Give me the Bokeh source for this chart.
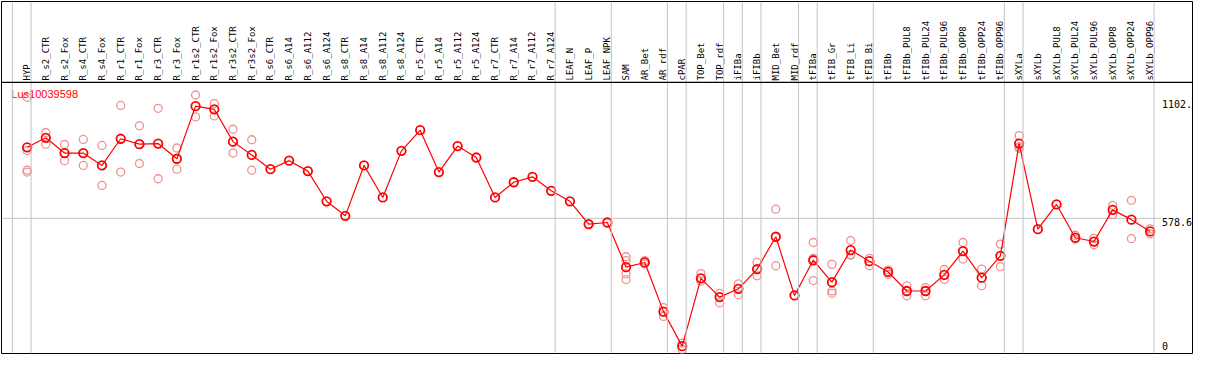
import math
from bokeh.plotting import figure
from bokeh.models import Range1d, Span, ColumnDataSource
from bokeh.core.properties import value
from bokeh.embed import file_html
from bokeh.resources import INLINE

# ---------------- data ----------------
title_text = "Lus10039598"

categories = [
    "HYP", "R_s2_CTR", "R_s2_Fox", "R_s4_CTR", "R_s4_Fox", "R_r1_CTR", "R_r1_Fox",
    "R_r3_CTR", "R_r3_Fox", "R_r1s2_CTR", "R_r1s2_Fox", "R_r3s2_CTR", "R_r3s2_Fox",
    "R_s6_CTR", "R_s6_A14", "R_s6_A112", "R_s6_A124", "R_s8_CTR", "R_s8_A14",
    "R_s8_A112", "R_s8_A124", "R_r5_CTR", "R_r5_A14", "R_r5_A112", "R_r5_A124",
    "R_r7_CTR", "R_r7_A14", "R_r7_A112", "R_r7_A124", "LEAF_N", "LEAF_P", "LEAF_NPK",
    "SAM", "AR_Bet", "AR_rdf", "cPAR", "TOP_Bet", "TOP_rdf", "iFIBa", "iFIBb",
    "MID_Bet", "MID_rdf", "tFIBa", "tFIB_Gr", "tFIB_Li", "tFIB_Bi", "tFIBb",
    "tFIBb_PUL8", "tFIBb_PUL24", "tFIBb_PUL96", "tFIBb_OPP8", "tFIBb_OPP24", "tFIBb_OPP96",
    "sXYLa", "sXYLb", "sXYLb_PUL8", "sXYLb_PUL24", "sXYLb_PUL96", "sXYLb_OPP8",
    "sXYLb_OPP24", "sXYLb_OPP96",
]

means = [
    891.5, 933.4, 866.3, 866.3, 811.8, 929.2, 905.3, 908.2, 841.2, 1072.9, 1059.1,
    916.6, 857.9, 795.1, 832.8, 786.7, 653.8, 589.7, 811.8, 670.6, 875.9, 966.9,
    782.5, 896.9, 846.6, 670.6, 737.6, 761.5, 699.9, 653.8, 553.2, 560.4,
    363.4, 384.3, 167.6, 15.5, 314.3, 231.8, 268.2, 355.0, 497.5, 238.9,
    394.0, 297.6, 438.8, 389.8, 342.4, 258.6, 258.6, 329.8, 434.6, 317.3, 413.7,
    908.2, 531.0, 640.0, 493.3, 476.5, 616.1, 572.9, 521.0,
]

replicates = [
    [1111.9, 877.2, 790.9, 782.5], [956.8, 905.3], [904.0, 832.8], [926.2, 811.8],
    [899.8, 723.8], [1075.9, 782.5], [986.2, 820.2], [1063.3, 753.1], [888.5, 795.1],
    [1122.0, 1025.6], [1084.2, 1029.8], [971.1, 866.3], [925.0, 790.9],
    [], [], [], [], [], [], [], [], [], [], [], [], [], [], [], [], [], [], [],
    [409.5, 392.7, 334.0, 308.9], [391.9, 377.2], [185.7, 146.7], [29.3, 1.3],
    [335.3, 301.8], [248.5, 206.6], [290.4, 241.8], [384.3, 325.6], [619.0, 370.1],
    [], [472.3, 402.3, 304.7], [375.9, 258.6, 248.5], [480.7, 419.1, 416.2],
    [402.3, 370.1], [350.8, 332.4], [280.8, 237.6], [273.7, 237.6], [353.3, 310.1],
    [472.3, 399.4], [355.0, 282.1], [465.2, 365.9],
    [943.0, 894.0, 887.3], [], [], [504.2, 486.2], [490.4, 462.3], [635.8, 595.1],
    [658.0, 489.1], [532.3, 510.1],
]

group_ends = [-1, 0, 28, 31, 34, 35, 37, 38, 39, 41, 42, 45, 52, 53, 60]
y_ticks = [1102, 578.6, 0]
y_tick_labels = ["1102.", "578.6", "0"]
ref_line = 578.6

# ---------------- layout helpers (reference pixel geometry) ----------------
PX0, STEP = 26.0, 19.0
Y0, K = 366.0, 0.2386


def xd(px):
    return (px - PX0) / STEP


def yd(py):
    return (Y0 - py) / K


RED = "#ff0000"
PINK = "#f09090"
GRAY = "#c4c4c4"

p = figure(
    width=1193, height=354,
    x_range=Range1d(xd(0), xd(1209)), y_range=Range1d(yd(370), yd(0)),
    output_backend="svg", toolbar_location=None,
    x_axis_location=None, y_axis_location=None,
    min_border=1,
)
p.grid.visible = False
p.outline_line_color = "black"
p.outline_line_width = 1
p.background_fill_color = "white"
p.border_fill_color = "white"

# group separators (vertical gray lines)
for g in group_ends:
    p.add_layout(Span(location=g + 4.0 / STEP, dimension="height",
                      line_color=GRAY, line_width=1))

# header separator
p.add_layout(Span(location=yd(85), dimension="width", line_color="black", line_width=1.2))

# reference horizontal line
p.segment(x0=[xd(0)], y0=[ref_line], x1=[xd(1177)], y1=[ref_line],
          line_color=GRAY, line_width=1)

xs = list(range(len(categories)))

# category labels (rotated)
p.text(x=xs, y=[yd(83)] * len(xs), text=categories, angle=math.pi / 2,
       text_align="left", text_baseline="middle",
       text_font=value("DejaVu Sans Mono"), text_font_size="9px", text_color="black")

# replicate points
rx, ry = [], []
for i, reps in enumerate(replicates):
    for r in reps:
        rx.append(i)
        ry.append(r)
p.scatter(rx, ry, marker="circle", size=8, fill_color=None,
          line_color=PINK, line_width=1.3)

# mean line + points
p.line(xs, means, line_color=RED, line_width=1.2)
p.scatter(xs, means, marker="circle", size=8.5, fill_color=None,
          line_color=RED, line_width=1.8)

# right-side value labels
p.text(x=[xd(1178)] * 2, y=y_ticks[:2], text=y_tick_labels[:2],
       text_align="left", text_baseline="top",
       text_font=value("DejaVu Sans Mono"), text_font_size="10px", text_color="black")
p.text(x=[xd(1178)], y=[y_ticks[2]], text=[y_tick_labels[2]],
       text_align="left", text_baseline="bottom",
       text_font=value("DejaVu Sans Mono"), text_font_size="10px", text_color="black")

# title
p.text(x=[xd(10)], y=[yd(97)], text=[title_text], text_align="left",
       text_baseline="middle", text_font=value("Liberation Sans"),
       text_font_size="11px", text_color=RED)

open("out.html", "w").write(file_html(p, INLINE))
